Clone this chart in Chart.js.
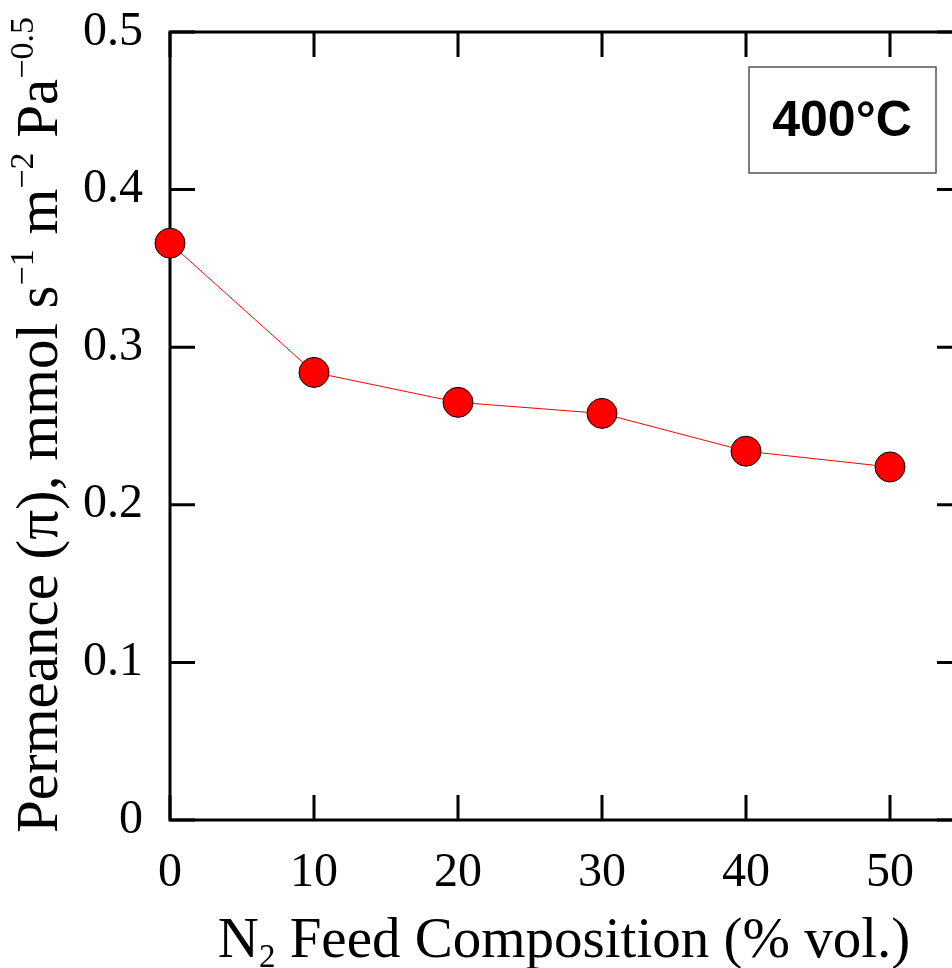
<!DOCTYPE html>
<html lang="en">
<head>
    <meta charset="UTF-8">
    <title>N2 permeance</title>
    <script src="https://cdn.jsdelivr.net/npm/chart.js"></script>
    <style>
        html, body { margin: 0; padding: 0; background: #fff; overflow: hidden; }
        #wrap { width: 990px; height: 968px; }
    </style>
</head>
<body>
    <div id="wrap">
        <canvas id="permChart" width="990" height="968"></canvas>
    </div>
    <script>
        // data
        var feedN2 = [0, 10, 20, 30, 40, 50];
        var permeance = [0.366, 0.284, 0.265, 0.258, 0.234, 0.224];
        var xTickValues = [0, 10, 20, 30, 40, 50];
        var yTickValues = [0, 0.1, 0.2, 0.3, 0.4, 0.5];
        var tempLabel = '400°C';

        var serif = '"Liberation Serif", "DejaVu Serif", serif';

        // draws a list of [text, kind] runs; kind: '' normal, 'sup', 'sub'
        function drawRuns(ctx, runs, x, y, size) {
            var small = Math.round(size * 0.58);
            var widths = runs.map(function (r) {
                ctx.font = (r[1] ? small : size) + 'px ' + serif;
                return ctx.measureText(r[0]).width;
            });
            var total = widths.reduce(function (a, b) { return a + b; }, 0);
            var cx = x - total / 2;
            ctx.textBaseline = 'alphabetic';
            ctx.textAlign = 'left';
            runs.forEach(function (r, i) {
                var dy = 0;
                ctx.font = (r[1] ? small : size) + 'px ' + serif;
                if (r[1] === 'sup') dy = -size * 0.4;
                if (r[1] === 'sub') dy = size * 0.18;
                ctx.fillText(r[0], cx, y + dy);
                cx += widths[i];
            });
        }

        var framePlugin = {
            id: 'frame',
            beforeDatasetsDraw: function (chart) {
                var ctx = chart.ctx;
                var a = chart.chartArea;
                var xs = chart.scales.x, ys = chart.scales.y;
                var tick = 25;
                ctx.save();
                ctx.strokeStyle = '#000';
                ctx.lineWidth = 3;
                ctx.strokeRect(a.left, a.top, a.right - a.left, a.bottom - a.top);
                ctx.beginPath();
                xTickValues.forEach(function (v) {
                    var px = xs.getPixelForValue(v);
                    ctx.moveTo(px, a.bottom); ctx.lineTo(px, a.bottom - tick);
                    ctx.moveTo(px, a.top); ctx.lineTo(px, a.top + tick);
                });
                yTickValues.forEach(function (v) {
                    var py = ys.getPixelForValue(v);
                    ctx.moveTo(a.left, py); ctx.lineTo(a.left + tick, py);
                    ctx.moveTo(a.right, py); ctx.lineTo(a.right - tick, py);
                });
                ctx.stroke();
                ctx.restore();
            },
            afterDraw: function (chart) {
                var ctx = chart.ctx;
                ctx.save();
                ctx.fillStyle = '#000';

                // x title
                drawRuns(ctx, [['N', ''], ['2', 'sub'], [' Feed Composition (% vol.)', '']], 564, 957, 57);

                // y title, rotated
                ctx.save();
                ctx.translate(57, 425);
                ctx.rotate(-Math.PI / 2);
                drawRuns(ctx, [
                    ['Permeance (\u03c0), mmol s', ''], ['\u22121', 'sup'],
                    [' m', ''], ['\u22122', 'sup'],
                    [' Pa', ''], ['\u22120.5', 'sup']
                ], 0, 0, 59);
                ctx.restore();

                // temperature box
                ctx.strokeStyle = '#555';
                ctx.lineWidth = 1.5;
                ctx.strokeRect(749, 67, 187, 106);
                ctx.font = 'bold 50px "Liberation Sans", Arial, sans-serif';
                ctx.textAlign = 'center';
                ctx.textBaseline = 'middle';
                ctx.fillText(tempLabel, 842, 122);
                ctx.restore();
            }
        };

        new Chart(document.getElementById('permChart').getContext('2d'), {
            type: 'line',
            data: {
                datasets: [{
                    data: feedN2.map(function (x, i) { return { x: x, y: permeance[i] }; }),
                    borderColor: '#ff0000',
                    borderWidth: 1,
                    pointRadius: 15,
                    pointHoverRadius: 15,
                    pointBackgroundColor: '#ff0000',
                    pointBorderColor: '#000',
                    pointBorderWidth: 1,
                    tension: 0,
                    clip: false
                }]
            },
            options: {
                responsive: false,
                animation: false,
                events: [],
                layout: { padding: { top: 32, right: 28, left: 0, bottom: 0 } },
                plugins: { legend: { display: false }, tooltip: { enabled: false } },
                scales: {
                    x: {
                        type: 'linear',
                        min: 0,
                        max: 55,
                        afterBuildTicks: function (s) { s.ticks = xTickValues.map(function (v) { return { value: v }; }); },
                        afterFit: function (s) { s.height = 148; s.paddingLeft = 0; s.paddingRight = 0; },
                        grid: { display: false, drawTicks: false },
                        border: { display: false },
                        ticks: {
                            padding: 25,
                            maxRotation: 0,
                            color: '#000',
                            font: { family: serif, size: 48 }
                        }
                    },
                    y: {
                        min: 0,
                        max: 0.5,
                        afterBuildTicks: function (s) { s.ticks = yTickValues.map(function (v) { return { value: v }; }); },
                        afterFit: function (s) { s.width = 170; s.paddingTop = 0; s.paddingBottom = 0; },
                        grid: { display: false, drawTicks: false },
                        border: { display: false },
                        ticks: {
                            padding: 27,
                            color: '#000',
                            font: { family: serif, size: 48 },
                            callback: function (v) { return v === 0 ? '0' : v.toFixed(1); }
                        }
                    }
                }
            },
            plugins: [framePlugin]
        });
    </script>
</body>
</html>
